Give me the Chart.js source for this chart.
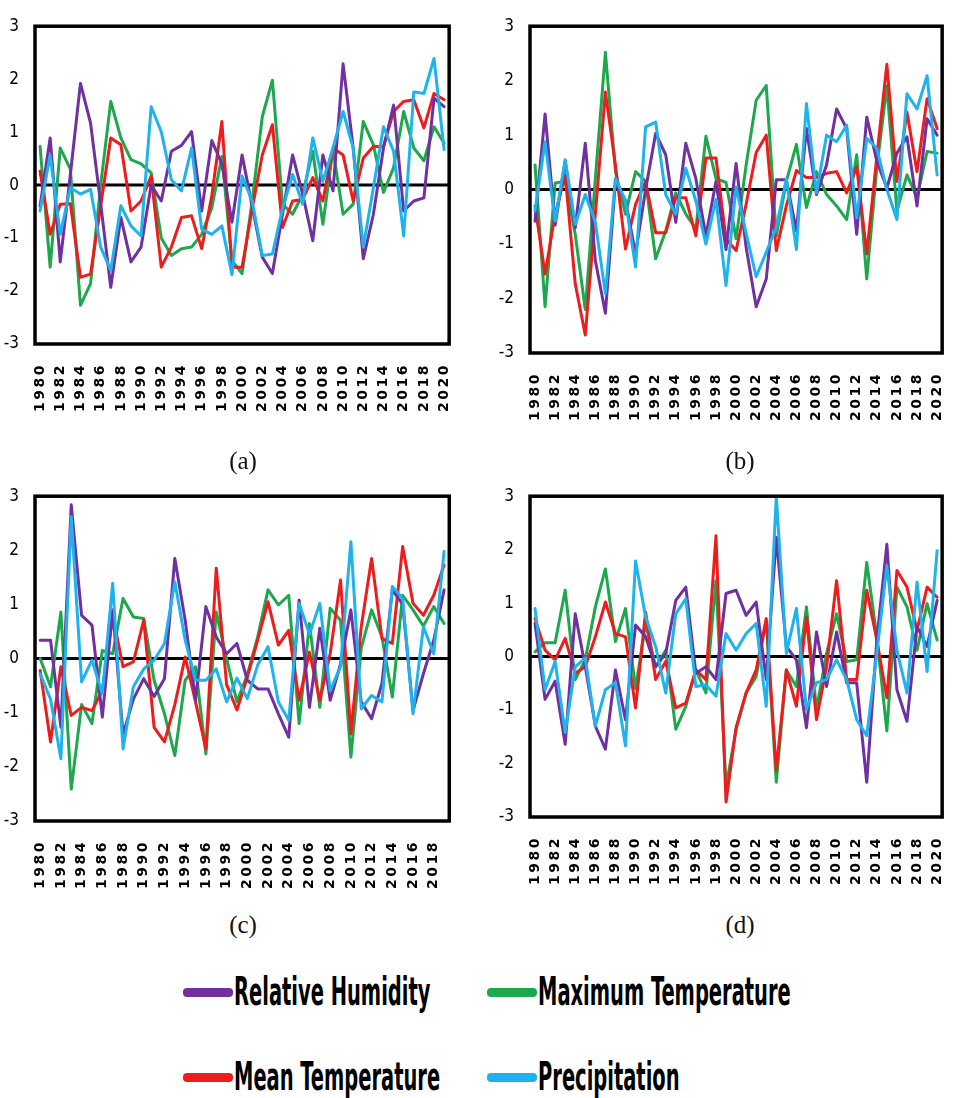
<!DOCTYPE html>
<html>
<head>
<meta charset="utf-8">
<script src="https://cdn.jsdelivr.net/npm/chart.js@4.4.1/dist/chart.umd.min.js"></script>
<style>
  html, body { margin: 0; padding: 0; background: #fff; width: 965px; height: 1098px; overflow: hidden; position: relative; }
  canvas { position: absolute; }
  .cap { position: absolute; font-family: "Liberation Serif", "DejaVu Serif", serif; font-size: 25px; color: #111; transform: translateX(-50%); line-height: 1; }
  .sw { position: absolute; width: 50px; height: 9px; border-radius: 4px; }
  .lt { position: absolute; font-family: "Liberation Sans Narrow", "DejaVu Sans Condensed", sans-serif; font-weight: bold; font-size: 39px; line-height: 39px; color: #000; white-space: nowrap; transform: scaleX(0.555); transform-origin: left top; }
</style>
</head>
<body>
<canvas id="pa" width="480" height="440" style="left:0;top:0"></canvas>
<canvas id="pb" width="480" height="450" style="left:493px;top:0"></canvas>
<canvas id="pc" width="480" height="440" style="left:0;top:470px"></canvas>
<canvas id="pd" width="480" height="440" style="left:493px;top:470px"></canvas>
<div class="cap" style="left:243px;top:448px">(a)</div>
<div class="cap" style="left:740px;top:448px">(b)</div>
<div class="cap" style="left:243px;top:912px">(c)</div>
<div class="cap" style="left:740px;top:912px">(d)</div>
<div id="legend"></div>
<script>
// Categories
const years41 = [1980,1981,1982,1983,1984,1985,1986,1987,1988,1989,1990,1991,1992,1993,1994,1995,1996,1997,1998,1999,2000,
                 2001,2002,2003,2004,2005,2006,2007,2008,2009,2010,2011,2012,2013,2014,2015,2016,2017,2018,2019,2020];
const years40 = years41.slice(0, 40);

const seriesNames = ['Relative Humidity', 'Maximum Temperature', 'Mean Temperature', 'Precipitation'];

// (a) standardized anomalies, 1980-2020
const humidityA = [-0.4,0.89,-1.45,0.2,1.92,1.17,-0.35,-1.93,-0.61,-1.45,-1.17,0.0,-0.3,0.64,0.75,1.01,-0.49,0.84,0.4,-0.7,0.57,
                   -0.4,-1.36,-1.67,-0.55,0.57,-0.17,-1.05,0.57,-0.11,2.29,0.7,-1.39,-0.55,0.7,1.51,-0.49,-0.3,-0.24,1.64,1.48];
const maxTempA  = [0.73,-1.55,0.7,0.3,-2.27,-1.86,0.0,1.58,0.89,0.48,0.4,0.23,-1.0,-1.33,-1.2,-1.17,-0.93,-0.43,0.54,-1.43,-1.67,
                   -0.3,1.29,1.98,-0.36,-0.55,-0.17,0.64,-0.74,0.67,-0.55,-0.36,1.2,0.76,-0.14,0.33,1.39,0.7,0.46,1.1,0.79];
const meanTempA = [0.26,-0.93,-0.36,-0.35,-1.74,-1.68,-0.4,0.89,0.76,-0.49,-0.3,0.17,-1.55,-1.17,-0.61,-0.58,-1.2,-0.2,1.2,-1.55,-1.55,
                   -0.45,0.57,1.14,-0.8,-0.3,-0.27,0.14,-0.3,0.7,0.57,-0.3,0.51,0.73,0.73,1.39,1.58,1.61,1.08,1.73,1.61];
const precipA   = [-0.49,0.57,-0.93,-0.05,-0.17,-0.08,-1.17,-1.61,-0.39,-0.77,-0.96,1.48,1.01,0.1,-0.11,0.7,-0.83,-0.93,-0.77,-1.69,0.17,
                   -0.3,-1.33,-1.3,-0.45,0.2,-0.36,0.89,0.07,0.7,1.39,0.7,-1.17,-0.05,1.1,0.64,-0.96,1.76,1.73,2.39,0.67];

// (b) 1980-2020
const humidityB = [-0.58,1.39,-0.65,0.52,-0.7,0.85,-1.3,-2.27,0.15,-0.2,-1.18,0.0,1.03,0.64,-0.6,0.85,0.2,-0.85,0.15,-1.1,0.48,
                   -1.06,-2.15,-1.64,0.18,0.18,-0.76,1.12,-0.09,0.45,1.48,1.12,-0.82,1.33,0.52,0.03,0.67,0.97,-0.3,1.3,1.0];
const maxTempB  = [0.45,-2.15,0.12,0.15,-0.82,-2.2,0.2,2.52,0.33,-0.45,0.33,0.15,-1.27,-0.76,-0.06,-0.45,-0.72,0.98,0.2,0.13,-0.9,
                   0.45,1.64,1.91,-0.85,0.15,0.83,-0.33,0.33,-0.09,-0.3,-0.55,0.64,-1.64,0.4,1.9,-0.39,0.27,-0.15,0.7,0.67];
const meanTempB = [-0.3,-1.55,-0.45,0.27,-1.73,-2.67,-0.45,1.79,0.45,-1.09,-0.27,0.15,-0.79,-0.79,-0.15,-0.15,-0.85,0.58,0.58,-0.91,-1.12,
                   -0.27,0.68,1.0,-1.12,-0.3,0.35,0.22,0.22,0.3,0.33,-0.06,0.42,-1.18,0.6,2.3,0.15,1.42,0.33,1.67,1.12];
const precipB   = [-0.39,0.88,-0.58,0.55,-0.64,-0.09,-0.6,-1.91,0.21,-0.21,-1.42,1.15,1.24,-0.09,-0.45,0.39,-0.21,-1.0,-0.18,-1.76,0.05,
                   -0.8,-1.6,-1.15,-0.7,0.2,-1.1,1.58,-0.06,1.0,0.88,1.18,-0.52,0.94,0.76,0.0,-0.55,1.76,1.48,2.09,0.27];

// (c) 1980-2019
const humidityC = [0.34,0.34,-1.27,2.84,0.8,0.62,-1.08,0.9,-1.4,-0.75,-0.37,-0.7,-0.37,1.85,0.71,-0.77,0.96,0.4,0.09,0.28,
                   -0.4,-0.56,-0.56,-1.02,-1.45,1.08,-0.9,0.56,-0.77,-0.1,0.9,-0.8,-1.11,-0.46,1.27,1.0,-0.96,-0.28,0.34,1.27];
const maxTempC  = [0.0,-0.52,0.86,-2.41,-0.85,-1.2,0.15,0.09,1.11,0.77,0.74,-0.4,-1.02,-1.79,-0.4,-0.15,-1.76,0.86,0.0,-0.8,
                   -0.3,0.4,1.27,0.99,1.17,-1.2,0.65,-0.9,0.93,0.71,-1.82,0.2,0.9,0.4,-0.71,1.17,0.9,0.6,0.96,0.65];
const meanTempC = [-0.22,-1.54,-0.15,-1.05,-0.9,-0.96,-0.59,0.8,-0.15,-0.06,0.71,-1.27,-1.54,-0.85,0.03,-0.8,-1.67,1.67,-0.48,-0.95,
                   -0.34,0.34,1.05,0.25,0.52,-0.77,0.12,-0.77,0.09,1.45,-1.39,0.59,1.85,0.37,0.28,2.07,1.02,0.8,1.17,1.73];
const precipC   = [-0.28,-0.75,-1.85,2.62,-0.43,-0.03,-0.65,1.39,-1.67,-0.52,-0.19,-0.03,0.28,1.42,0.34,-0.4,-0.4,-0.19,-0.8,-0.36,
                   -0.74,-0.12,0.22,-0.8,-1.14,1.02,0.45,1.02,-0.59,-0.15,2.16,-0.93,-0.68,-0.8,1.33,1.11,-1.02,0.59,0.09,1.98];

// (d) 1980-2020
const humidityD = [0.62,-0.8,-0.46,-1.64,0.8,-0.19,-1.3,-1.73,-0.25,-1.18,0.59,0.37,-0.19,0.06,1.05,1.3,-0.31,-0.19,-0.43,1.18,1.24,
                   0.77,1.02,-0.43,2.23,0.19,-0.06,-1.33,0.46,-0.56,0.46,-0.49,-0.49,-2.35,0.31,2.1,-0.62,-1.21,0.56,0.19,1.05];
const maxTempD  = [0.09,0.26,0.26,1.24,-0.43,-0.06,0.93,1.64,0.28,0.9,-0.6,0.62,-0.19,0.12,-1.36,-0.93,-0.25,-0.68,1.42,-2.45,-1.36,
                   -0.68,-0.37,0.68,-2.35,-0.25,-0.56,0.93,-0.99,0.06,0.8,-0.09,-0.06,1.76,0.37,-1.39,1.3,0.93,0.12,0.99,0.31];
const meanTempD = [0.71,0.12,-0.06,0.34,-0.31,-0.19,0.37,1.02,0.43,0.37,-0.96,0.83,-0.43,-0.09,-0.96,-0.87,-0.25,-0.43,2.26,-2.72,-1.33,
                   -0.68,-0.25,0.71,-2.13,-0.25,-0.93,0.74,-1.18,-0.19,1.42,-0.43,-0.43,1.24,0.31,-0.77,1.61,1.3,0.49,1.3,1.11];
const precipD   = [0.9,-0.62,-0.09,-1.42,-0.19,-0.03,-1.3,-0.62,-0.49,-1.67,1.79,0.74,0.19,-0.68,0.8,1.08,-0.56,-0.53,-0.74,0.43,0.12,
                   0.43,0.62,-0.93,3.0,0.06,0.9,-0.99,-0.49,-0.43,-0.06,-0.43,-1.18,-1.48,0.06,1.7,0.12,-0.68,1.39,-0.28,1.98];

// Styling
const lineColors = ['#7030A0', '#1DA84D', '#EE1C1C', '#1EB3EC'];
const stackOrder = [1, 3, 2, 0];   // lower value is painted later (on top)

// Black plot frame and zero reference line
const framePlugin = {
  id: 'framePlugin',
  beforeDatasetsDraw(chart) {
    const { ctx, chartArea: a, scales: { y } } = chart;
    const y0 = y.getPixelForValue(0);
    ctx.save();
    ctx.strokeStyle = '#000';
    ctx.lineWidth = 3;
    ctx.beginPath();
    ctx.moveTo(a.left, y0);
    ctx.lineTo(a.right, y0);
    ctx.stroke();
    ctx.restore();
  },
  afterDatasetsDraw(chart) {
    const { ctx, chartArea: a } = chart;
    ctx.save();
    ctx.strokeStyle = '#000';
    ctx.lineWidth = 3.5;
    ctx.strokeRect(a.left, a.top, a.right - a.left, a.bottom - a.top);
    ctx.restore();
  }
};

// Wider tracking for the rotated year labels
const yearTracking = {
  id: 'yearTracking',
  beforeDraw(chart) {
    const sx = chart.scales.x;
    if (sx && !sx._tracked) {
      const base = sx.drawLabels;
      sx.drawLabels = function (area) {
        const c = this.ctx;
        c.save();
        c.letterSpacing = '2.5px';
        base.call(this, area);
        c.restore();
      };
      sx._tracked = true;
    }
  }
};

function makePanel(id, labels, series, box) {
  return new Chart(document.getElementById(id), {
    type: 'line',
    data: {
      labels: labels,
      datasets: seriesNames.map((name, k) => ({
        label: name,
        data: series[k],
        borderColor: lineColors[k],
        backgroundColor: lineColors[k],
        borderWidth: 3,
        pointRadius: 0,
        tension: 0,
        order: stackOrder[k],
        borderJoinStyle: 'round',
        borderCapStyle: 'round'
      }))
    },
    options: {
      responsive: false,
      animation: false,
      events: [],
      layout: { padding: { left: 0, right: box.padR, top: box.padT, bottom: 0 } },
      plugins: { legend: { display: false }, tooltip: { enabled: false } },
      scales: {
        x: {
          type: 'category',
          offset: true,
          grid: { display: false, drawTicks: false },
          border: { display: false },
          ticks: {
            autoSkip: false,
            minRotation: 90,
            maxRotation: 90,
            padding: 19,
            color: '#000',
            font: { family: '"DejaVu Sans", sans-serif', weight: 'bold', size: 14 },
            callback: function (v, i) { return i % 2 === 0 ? String(this.getLabelForValue(v)) : ''; }
          },
          afterFit(s) { s.height = box.xH; }
        },
        y: {
          min: -3,
          max: 3,
          grid: { display: false, drawTicks: false },
          border: { display: false },
          ticks: {
            stepSize: 1,
            padding: 16,
            color: '#000',
            font: { family: '"Liberation Sans Narrow", "DejaVu Sans Condensed", sans-serif', size: 17 }
          },
          afterFit(s) { s.width = box.yW; }
        }
      }
    },
    plugins: [framePlugin, yearTracking]
  });
}

const charts = [
  makePanel('pa', years41, [humidityA, maxTempA, meanTempA, precipA], { yW: 35, padR: 8, padT: 24, xH: 96 }),
  makePanel('pb', years41, [humidityB, maxTempB, meanTempB, precipB], { yW: 37, padR: 6, padT: 25, xH: 97 }),
  makePanel('pc', years40, [humidityC, maxTempC, meanTempC, precipC], { yW: 35, padR: 8, padT: 25, xH: 89 }),
  makePanel('pd', years41, [humidityD, maxTempD, meanTempD, precipD], { yW: 37, padR: 6, padT: 25, xH: 93 })
];
charts.forEach(c => c.draw());

// Shared legend, two columns
const legendSlots = [[183, 972], [487, 972], [183, 1057], [487, 1057]];
const legend = document.getElementById('legend');
seriesNames.forEach((name, k) => {
  const [x, top] = legendSlots[k];
  const sw = document.createElement('div');
  sw.className = 'sw';
  sw.style.left = x + 'px';
  sw.style.top = (top + 16) + 'px';
  sw.style.background = lineColors[k];
  legend.appendChild(sw);
  const t = document.createElement('div');
  t.className = 'lt';
  t.style.left = (x + 51) + 'px';
  t.style.top = top + 'px';
  t.textContent = name;
  legend.appendChild(t);
});
</script>
</body>
</html>
